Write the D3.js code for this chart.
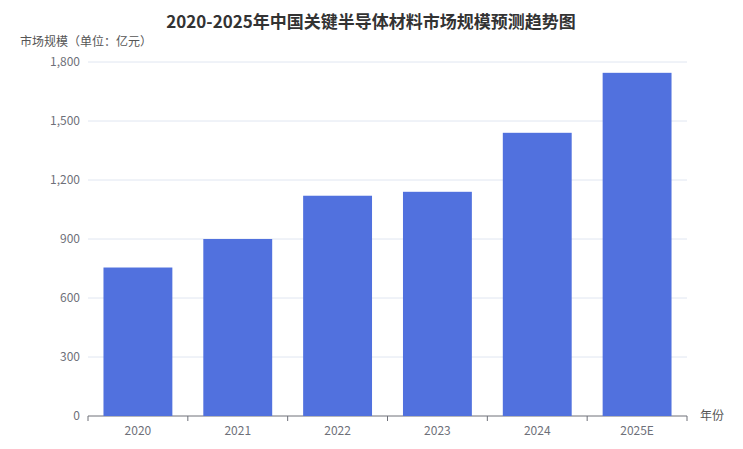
<!DOCTYPE html>
<html><head><meta charset="utf-8">
<script src="https://cdn.jsdelivr.net/npm/d3@7"></script>
<style>body{margin:0;background:#fff;font-family:"Noto Sans CJK SC","Noto Sans",sans-serif;}</style>
</head><body>
<svg id="chart" width="743" height="449"></svg>
<script>
// chart data
var years = ["2020", "2021", "2022", "2023", "2024", "2025E"];
var marketSize = [755, 900, 1120, 1140, 1440, 1745];
var yTicks = [0, 300, 600, 900, 1200, 1500, 1800];

var svg = d3.select("#chart");
var plotLeft = 88, plotRight = 687, plotTop = 62, plotBottom = 416;

var x = d3.scaleBand().domain(years).range([plotLeft, plotRight]).paddingInner(0.31).paddingOuter(0.155);
var y = d3.scaleLinear().domain([0, 1800]).range([plotBottom, plotTop]);

// title
svg.append("text").attr("x", 371).attr("y", 28).attr("text-anchor", "middle")
    .style("font-size", "17px").style("font-weight", "bold").attr("fill", "#333")
    .text("2020-2025年中国关键半导体材料市场规模预测趋势图");

// axis names
svg.append("text").attr("x", 20).attr("y", 46).style("font-size", "12px").attr("fill", "#555")
    .text("市场规模（单位：亿元）");
svg.append("text").attr("x", 700).attr("y", 420).style("font-size", "12px").attr("fill", "#555")
    .text("年份");

// grid lines + y labels
svg.selectAll(".grid").data(yTicks).enter().append("line")
    .attr("x1", plotLeft).attr("x2", plotRight)
    .attr("y1", function(d){ return y(d); }).attr("y2", function(d){ return y(d); })
    .attr("stroke", function(d){ return d === 0 ? "#6e7079" : "#e0e6f1"; });
svg.selectAll(".ylab").data(yTicks).enter().append("text")
    .attr("x", plotLeft - 8).attr("y", function(d){ return y(d) + 4; })
    .attr("text-anchor", "end").style("font-size", "12px").attr("fill", "#6e7079")
    .text(d3.format(","));

// bars
svg.selectAll(".bar").data(marketSize).enter().append("rect")
    .attr("x", function(d, i){ return x(years[i]); })
    .attr("width", x.bandwidth())
    .attr("y", function(d){ return y(d); })
    .attr("height", function(d){ return plotBottom - y(d); })
    .attr("fill", "#5171de");

// x ticks + labels
var step = x.step();
svg.selectAll(".xtick").data(d3.range(years.length + 1)).enter().append("line")
    .attr("x1", function(i){ return plotLeft + i * step; }).attr("x2", function(i){ return plotLeft + i * step; })
    .attr("y1", plotBottom).attr("y2", plotBottom + 5).attr("stroke", "#6e7079");
svg.selectAll(".xlab").data(years).enter().append("text")
    .attr("x", function(d){ return x(d) + x.bandwidth() / 2; }).attr("y", plotBottom + 19)
    .attr("text-anchor", "middle").style("font-size", "12px").attr("fill", "#6e7079")
    .text(function(d){ return d; });
</script>
</body></html>
